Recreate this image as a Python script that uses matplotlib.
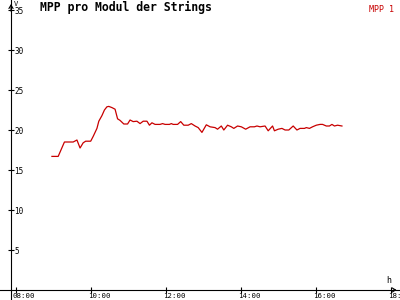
import matplotlib
matplotlib.use('Agg')
import matplotlib.pyplot as plt
from matplotlib.transforms import ScaledTranslation

# Messzeit in Minuten seit Mitternacht, MPP-Spannung in V
minuten = [538, 548, 558, 572, 578, 583, 588, 592, 600, 604,
           610, 613, 618, 622, 626, 629, 634, 639, 643, 647,
           653, 659, 663, 668, 674, 679, 684, 690, 694, 698,
           703, 711, 715, 719, 726, 729, 732, 739, 744, 749,
           756, 761, 767, 772, 778, 785, 791, 799, 803, 809,
           813, 819, 825, 829, 835, 841, 848, 855, 862, 866,
           871, 879, 884, 891, 894, 900, 906, 911, 917, 924,
           930, 935, 942, 945, 950, 955, 961, 967, 971, 977,
           982, 986, 990, 995, 1002]
spannung = [16.7, 16.7, 18.5, 18.5, 18.75, 17.75, 18.4, 18.6, 18.6, 19.2,
            20.2, 21.1, 21.8, 22.5, 22.9, 22.95, 22.8, 22.6, 21.4, 21.2,
            20.75, 20.75, 21.25, 21.05, 21.1, 20.8, 21.1, 21.1, 20.6, 20.9,
            20.7, 20.7, 20.8, 20.7, 20.7, 20.8, 20.7, 20.7, 21.05, 20.6,
            20.6, 20.8, 20.5, 20.3, 19.7, 20.65, 20.4, 20.3, 20.1, 20.5,
            20.0, 20.6, 20.4, 20.2, 20.5, 20.4, 20.1, 20.4, 20.4, 20.5,
            20.4, 20.5, 19.9, 20.5, 19.9, 20.1, 20.2, 20.0, 20.0, 20.5,
            20.0, 20.2, 20.2, 20.3, 20.2, 20.4, 20.6, 20.7, 20.7, 20.5,
            20.5, 20.7, 20.5, 20.6, 20.5]

x_ticks = [480, 600, 720, 840, 960, 1080]
x_labels = ['08:00', '10:00', '12:00', '14:00', '16:00', '18:00']
y_ticks = [5, 10, 15, 20, 25, 30, 35]

rot = '#c80000'
plt.rcParams['font.family'] = 'DejaVu Sans Mono'

fig = plt.figure(figsize=(4, 3), dpi=100)
ax = fig.add_axes([0, 0, 1, 1])
ax.set_xlim(454.9, 1094.9)
ax.set_ylim(-1.25, 36.25)

ax.plot(minuten, spannung, color=rot, lw=0.9)

for s in ['top', 'right']:
    ax.spines[s].set_visible(False)
ax.spines['left'].set_position(('data', 472.5))
ax.spines['bottom'].set_position(('data', 0))
for s in ['left', 'bottom']:
    ax.spines[s].set_linewidth(0.8)

ax.set_xticks(x_ticks)
ax.set_xticklabels(x_labels, fontsize=5.3, ha='left')
ax.set_yticks(y_ticks)
ax.set_yticklabels([str(v) for v in y_ticks], fontsize=5.5, ha='left')
ax.tick_params(direction='inout', length=4, width=0.8)
ax.tick_params(axis='x', pad=0)
ax.tick_params(axis='y', pad=-4.6)
for lbl in ax.get_xticklabels():
    lbl.set_transform(lbl.get_transform() + ScaledTranslation(-3 / 100, 0, fig.dpi_scale_trans))

# Pfeile an den Achsenenden
pfeil = dict(arrowstyle='->, head_length=0.25, head_width=0.15', lw=0.8, color='black')
ax.annotate('', xy=(472.5, 36.1), xytext=(472.5, 34.5), arrowprops=pfeil)
ax.annotate('', xy=(1094.0, 0), xytext=(1080, 0), arrowprops=pfeil)

ax.text(0.035, 0.995, 'V', transform=ax.transAxes, fontsize=5, va='top', ha='left')
ax.text(1077, 0.6, 'h', fontsize=6, va='bottom', ha='center')

fig.text(0.1, 0.975, 'MPP pro Modul der Strings', fontsize=8.3,
         fontweight='bold', va='center', ha='left')
fig.text(0.985, 0.985, 'MPP 1', fontsize=6, color=rot, va='top', ha='right')

fig.savefig('out.png', dpi=100, facecolor='white')
